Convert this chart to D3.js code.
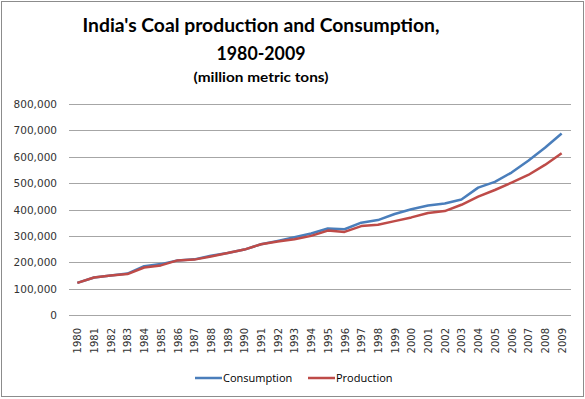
<!DOCTYPE html>
<html>
<head>
<meta charset="utf-8">
<title>India coal</title>
<style>
  body{ margin:0; background:#fff; }
  svg{ display:block; }
</style>
</head>
<body>
<script src="https://cdn.jsdelivr.net/npm/d3@7"></script>
<script>
  // data
  var years = [1980,1981,1982,1983,1984,1985,1986,1987,1988,1989,1990,1991,1992,1993,1994,
               1995,1996,1997,1998,1999,2000,2001,2002,2003,2004,2005,2006,2007,2008,2009];
  var consumption = [122000,142000,150000,157000,185000,193000,207000,211000,225000,235000,
                     248000,268000,281000,295000,309000,328000,325000,350000,360000,383000,
                     401000,415000,423000,438000,483000,505000,540000,585000,634000,688000];
  var production = [122000,142000,150000,155000,180000,188000,207000,210000,222000,235000,
                    248000,268000,279000,287000,300000,320000,315000,337000,342000,356000,
                    370000,387000,394000,418000,449000,474000,502000,531000,569000,613000];
  var yTicks = [0,100000,200000,300000,400000,500000,600000,700000,800000];
  var seriesNames = ['Consumption','Production'];
  var colors = ['#4a7ebb','#be4b48'];

  var W = 585, H = 399;
  var svg = d3.select('body').append('svg').attr('width', W).attr('height', H);

  // chart border
  svg.append('rect').attr('x',1.5).attr('y',1.5).attr('width',582).attr('height',395)
    .attr('fill','#fff').attr('stroke','#8c8c8c').attr('stroke-width',1);

  var x = d3.scalePoint().domain(years).range([69,570]).padding(0.5);
  var y = d3.scaleLinear().domain([0,800000]).range([315,104]);

  // gridlines
  svg.append('g').selectAll('line').data(yTicks).enter().append('line')
    .attr('x1',69).attr('x2',571)
    .attr('y1',function(d){ return Math.round(y(d))+0.5; })
    .attr('y2',function(d){ return Math.round(y(d))+0.5; })
    .attr('stroke','#a6a6a6').attr('stroke-width',1);

  // y labels
  var fmt = d3.format(',');
  svg.append('g').selectAll('text').data(yTicks).enter().append('text')
    .attr('x',57).attr('y',function(d){ return y(d)+4; })
    .attr('text-anchor','end')
    .style('font-family','DejaVu Sans').style('font-size','10.5px').style('fill','#333')
    .text(function(d){ return fmt(d); });

  // x labels, rotated
  svg.append('g').selectAll('text').data(years).enter().append('text')
    .attr('transform',function(d){ return 'translate('+(x(d)+4)+',328) rotate(-90)'; })
    .attr('text-anchor','end')
    .style('font-family','DejaVu Sans').style('font-size','10px').style('fill','#333')
    .text(function(d){ return d; });

  // lines
  var line = d3.line()
    .x(function(d,i){ return x(years[i]); })
    .y(function(d){ return y(d); });
  [consumption, production].forEach(function(s,i){
    svg.append('path').datum(s).attr('d',line)
      .attr('fill','none').attr('stroke',colors[i]).attr('stroke-width',2.5)
      .attr('stroke-linejoin','round');
  });

  // title: Lato squeezed to Calibri-like widths
  function titleText(txt, cx, by, size, target){
    svg.append('text').attr('x',cx).attr('y',by).attr('text-anchor','middle')
      .attr('textLength',target).attr('lengthAdjust','spacingAndGlyphs')
      .style('font-family','Lato').style('font-weight','bold').style('font-size',size+'px')
      .style('fill','#000').text(txt);
  }
  titleText("India's Coal production and Consumption,", 261, 32, 19.5, 357);
  titleText('1980-2009', 261, 60, 18, 89);
  titleText('(million metric tons)', 261, 82, 14, 135);

  // legend
  var lg = [{x:195, name:seriesNames[0], c:colors[0]}, {x:308, name:seriesNames[1], c:colors[1]}];
  lg.forEach(function(d){
    svg.append('line').attr('x1',d.x).attr('x2',d.x+27).attr('y1',378).attr('y2',378)
      .attr('stroke',d.c).attr('stroke-width',2.5);
    svg.append('text').attr('x',d.x+28).attr('y',382)
      .style('font-family','Open Sans').style('font-size','11px').style('fill','#000')
      .text(d.name);
  });
</script>
</body>
</html>
